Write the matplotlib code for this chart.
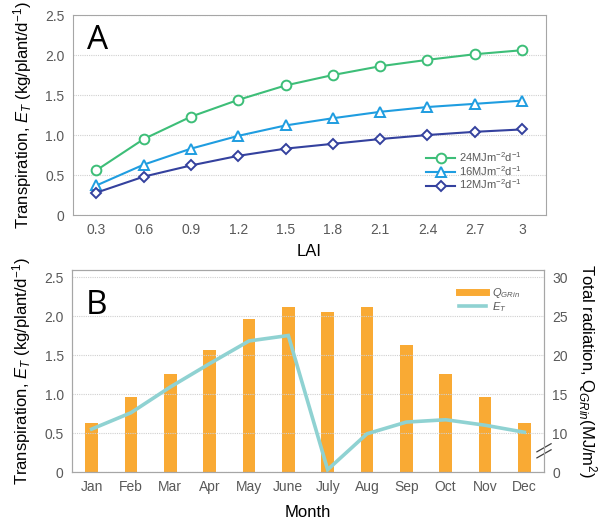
import matplotlib
matplotlib.use("Agg")
import matplotlib.pyplot as plt
from matplotlib.lines import Line2D

plt.rcParams['font.family'] = ['Liberation Sans', 'DejaVu Sans']
plt.rcParams['mathtext.fontset'] = 'custom'
plt.rcParams['mathtext.rm'] = 'Liberation Sans'
plt.rcParams['mathtext.it'] = 'Liberation Sans:italic'

# panel A data
lai = ["0.3", "0.6", "0.9", "1.2", "1.5", "1.8", "2.1", "2.4", "2.7", "3"]
et_24 = [0.56, 0.95, 1.23, 1.44, 1.62, 1.75, 1.86, 1.94, 2.01, 2.06]
et_16 = [0.37, 0.63, 0.83, 0.99, 1.12, 1.21, 1.29, 1.35, 1.39, 1.43]
et_12 = [0.28, 0.48, 0.62, 0.74, 0.83, 0.89, 0.95, 1.00, 1.04, 1.07]

# panel B data
months = ["Jan", "Feb", "Mar", "Apr", "May", "June", "July", "Aug", "Sep", "Oct", "Nov", "Dec"]
q_grin = [11.3, 14.6, 17.6, 20.6, 24.6, 26.1, 25.5, 26.1, 21.3, 17.6, 14.6, 11.3]
et_month = [0.55, 0.76, 1.09, 1.39, 1.68, 1.75, 0.03, 0.49, 0.64, 0.67, 0.60, 0.51]

GRAY = "#595959"
SPINE = "#A6A6A6"

fig = plt.figure(figsize=(6.07, 5.2), dpi=100)

# ---------- panel A ----------
ax1 = fig.add_axes([0.120, 0.5865, 0.779, 0.3846])
x = range(len(lai))
ax1.plot(x, et_24, color="#3DBE78", lw=1.5, marker="o", ms=7, mfc="white", mew=1.4, label="24MJm$^{-2}$d$^{-1}$")
ax1.plot(x, et_16, color="#1F9DE0", lw=1.5, marker="^", ms=7, mfc="white", mew=1.4, label="16MJm$^{-2}$d$^{-1}$")
ax1.plot(x, et_12, color="#34419E", lw=1.5, marker="D", ms=5.5, mfc="white", mew=1.4, label="12MJm$^{-2}$d$^{-1}$")
ax1.set_xlim(-0.5, len(lai) - 0.5)
ax1.set_ylim(0, 2.5)
ax1.set_xticks(list(x))
ax1.set_xticklabels(lai)
ax1.set_yticks([0, 0.5, 1.0, 1.5, 2.0, 2.5])
ax1.set_yticklabels(["0", "0.5", "1.0", "1.5", "2.0", "2.5"])
ax1.grid(axis="y", color="#D0D0D0", ls=(0, (1, 1)), lw=0.8)
ax1.set_axisbelow(True)
ax1.set_xlabel("LAI", fontsize=12, labelpad=5)
ax1.set_ylabel("Transpiration, $\\mathit{E_T}$ (kg/plant/d$^{-1}$)", fontsize=12, labelpad=8)
ax1.text(0.03, 0.83, "A", transform=ax1.transAxes, fontsize=24, family="Open Sans")
leg1 = ax1.legend(loc="lower right", bbox_to_anchor=(0.96, 0.09), frameon=False, fontsize=8,
                  handlelength=2.6, labelspacing=0.0, handletextpad=0.3, borderpad=0)
for t in leg1.get_texts():
    t.set_color(GRAY)

# ---------- panel B ----------
ax2 = fig.add_axes([0.1186, 0.0923, 0.7776, 0.3885])
ax3 = ax2.twinx()
xm = range(len(months))
ax3.bar(xm, q_grin, width=0.33, color="#F9AA34", bottom=0)
ax3.set_ylim(5, 5 + 25.9)
ax3.set_yticks([5, 10, 15, 20, 25, 30])
ax3.set_yticklabels(["0", "10", "15", "20", "25", "30"])
ax3.set_ylabel("Total radiation, Q$_{GRin}$(MJ/m$^{2}$)", fontsize=12, rotation=270, labelpad=22)

ax2.set_zorder(ax3.get_zorder() + 1)
ax2.patch.set_visible(False)
ax2.plot(xm, et_month, color="#8FD2D2", lw=2.6, solid_joinstyle="miter")
ax2.set_xlim(-0.5, len(months) - 0.5)
ax2.set_ylim(0, 2.59)
ax2.set_xticks(list(xm))
ax2.set_xticklabels(months)
ax2.set_yticks([0, 0.5, 1.0, 1.5, 2.0, 2.5])
ax2.set_yticklabels(["0", "0.5", "1.0", "1.5", "2.0", "2.5"])
ax2.grid(axis="y", color="#D0D0D0", ls=(0, (1, 1)), lw=0.8)
ax2.set_xlabel("Month", fontsize=12, labelpad=8)
ax2.set_ylabel("Transpiration, $\\mathit{E_T}$ (kg/plant/d$^{-1}$)", fontsize=12, labelpad=8)
ax2.text(0.03, 0.78, "B", transform=ax2.transAxes, fontsize=24, family="Open Sans")

handles = [Line2D([], [], color="#F9AA34", lw=5), Line2D([], [], color="#8FD2D2", lw=2.6)]
leg2 = ax2.legend(handles, ["$\\mathit{Q_{GRin}}$", "$\\mathit{E_T}$"], loc="upper right",
                  bbox_to_anchor=(0.96, 0.95), frameon=False, fontsize=8,
                  handlelength=2.4, labelspacing=0.05, handletextpad=0.5, borderpad=0)
for t in leg2.get_texts():
    t.set_color(GRAY)

# axis break marks on the right axis
for dy in (0.0, 0.03):
    ax2.plot([0.985, 1.015], [0.07 + dy, 0.11 + dy], transform=ax2.transAxes, color="#404040",
             lw=0.9, clip_on=False)

for ax in (ax1, ax2, ax3):
    for s in ax.spines.values():
        s.set_color(SPINE)
    ax.tick_params(length=0, labelsize=10, colors=GRAY, pad=6)

plt.savefig("out.png", dpi=100)
